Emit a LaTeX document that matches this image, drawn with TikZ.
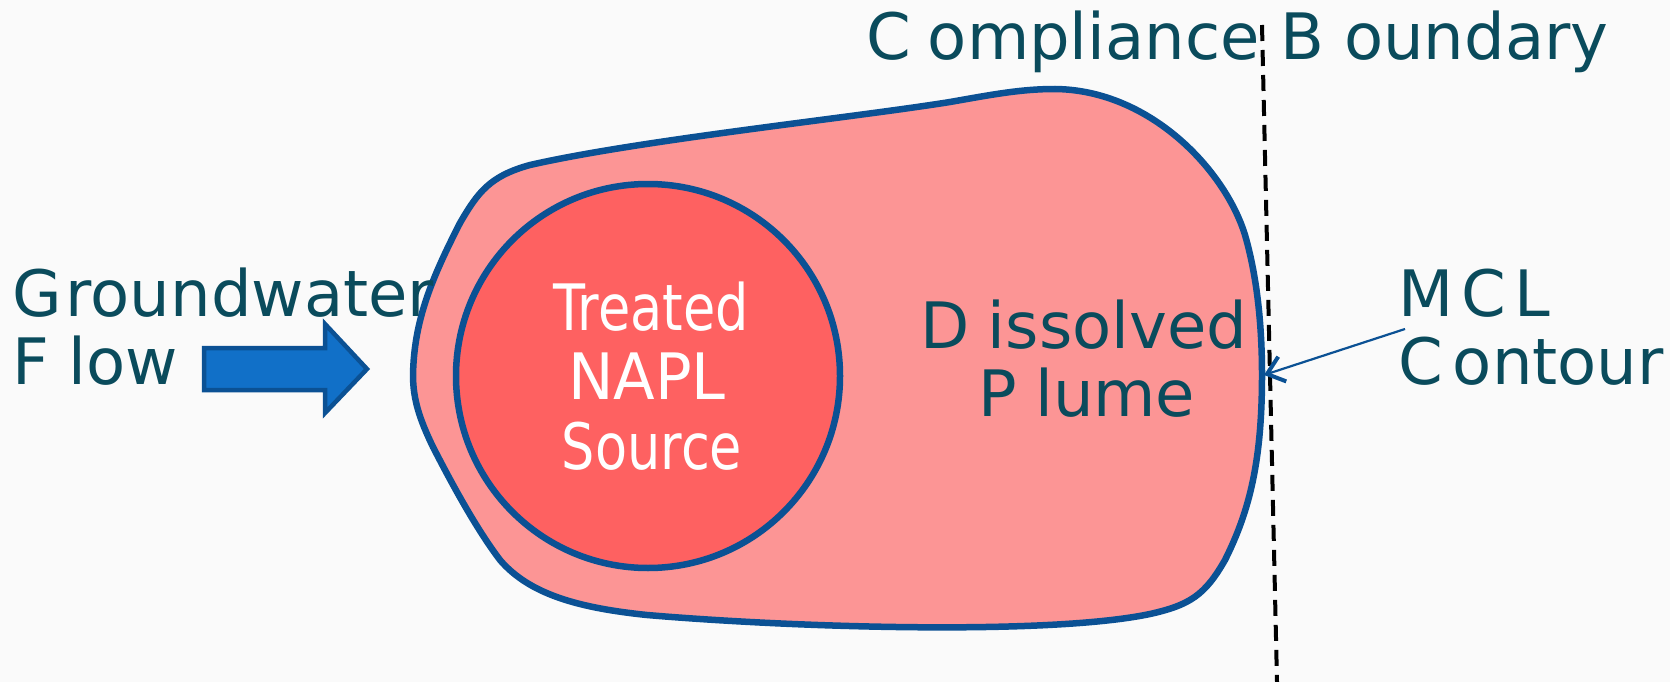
\documentclass[tikz,border=0pt]{standalone}
\usepackage{fontspec}
\setmainfont{DejaVu Sans}
\newfontfamily\narrowfont[FakeStretch=0.82]{DejaVu Sans}
\newfontfamily\midfont[FakeStretch=0.95]{DejaVu Sans}
\usetikzlibrary{arrows.meta}
\definecolor{bgcol}{HTML}{FAFAFA}
\definecolor{txtcol}{HTML}{0A4B5C}
\definecolor{edgecol}{HTML}{0B5194}
\definecolor{plumecol}{HTML}{FC9595}
\definecolor{srccol}{HTML}{FE6161}
\definecolor{flowcol}{HTML}{1170C8}
\newcommand{\capgap}[1]{\kern #1pt\relax}
\tikzset{
  lbl/.style={inner sep=0pt, text=txtcol, font=\fontsize{64}{69}\selectfont},
  whitelbl/.style={inner sep=0pt, text=white, font=\narrowfont\fontsize{64}{69}\selectfont, anchor=base},
  outline/.style={draw=edgecol, line width=6.5pt},
  boundary/.style={draw=black, line width=4pt, dash pattern=on 16pt off 9pt},
  pointer/.style={draw=edgecol, line width=2.2pt, -{Straight Barb[length=16pt,width=26pt,line width=4pt]}}
}
\begin{document}
\begin{tikzpicture}[x=1pt,y=-1pt]
\fill[bgcol] (0,0) rectangle (1670,682);
\useasboundingbox (0,0) rectangle (1670,682);

% dissolved plume
\path[outline, fill=plumecol, line join=round]
  (413,375) .. controls (414,320) and (432,278) .. (460,223)
  .. controls (478,192) and (490,176) .. (530,165)
  .. controls (640,140) and (850,118) .. (950,102)
  .. controls (990,95) and (1020,89) .. (1055,89)
  .. controls (1150,90) and (1225,170) .. (1245,235)
  .. controls (1258,280) and (1262,330) .. (1262,375)
  .. controls (1262,460) and (1250,510) .. (1225,560)
  .. controls (1205,595) and (1190,605) .. (1150,614)
  .. controls (1050,635) and (800,628) .. (647,615)
  .. controls (580,608) and (530,595) .. (500,560)
  .. controls (475,527) and (450,480) .. (433,447)
  .. controls (420,420) and (413,400) .. (413,375) -- cycle;

% treated source
\node (src) [circle, outline, fill=srccol, minimum size=384pt, inner sep=0pt] at (648,376) {};

% compliance boundary
\coordinate (btop) at (1262,25);
\coordinate (bbot) at (1277,682);
\draw[boundary] (btop) -- (bbot);

% groundwater flow arrow
\path[fill=flowcol, draw=edgecol, line width=4.5pt, line join=miter]
  (204,348) -- (325,348) -- (325,324) -- (367,369) -- (325,413) -- (325,390) -- (204,390) -- cycle;

% labels
\node (cb) [lbl, anchor=base west] at (866,60) {C\capgap{17}ompliance B\capgap{20}oundary};
\node (gw1) [lbl, anchor=base west] at (12,316) {G\capgap{4}roundwater};
\node (gw2) [lbl, anchor=base west] at (12,384) {F\capgap{20}low};
\node (dp1) [lbl, anchor=base] at (1084,348) {D\capgap{18}issolved};
\node (dp2) [lbl, anchor=base] at (1087,416) {P\capgap{18}lume};
\node (mcl1) [lbl, anchor=base west] at (1398,316) {M\capgap{8}C\capgap{8}L};
\node (mcl2) [lbl, anchor=base west] at (1398,384) {C\capgap{10}ontour};
\node (t1) [whitelbl] at (651,330) {Treated};
\node (t2) [whitelbl, font=\midfont\fontsize{64}{69}\selectfont] at (647,399) {NAPL};
\node (t3) [whitelbl] at (652,469) {Source};

% MCL pointer
\coordinate (pstart) at (1405,329);
\coordinate (pend) at (1264,375);
\draw[pointer] (pstart) -- (pend);
\end{tikzpicture}
\end{document}
